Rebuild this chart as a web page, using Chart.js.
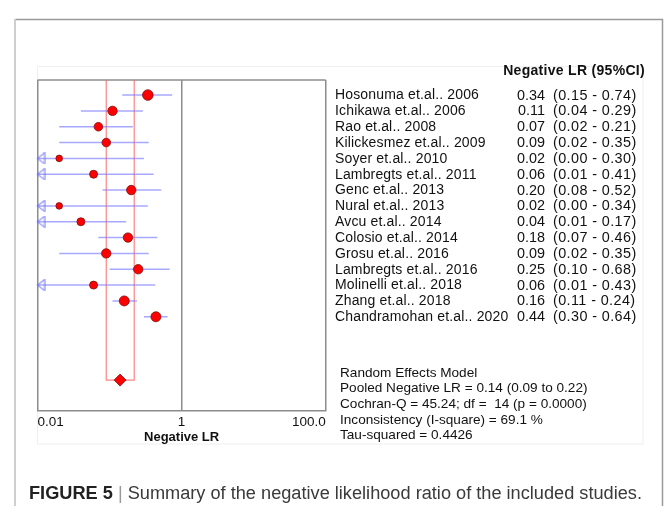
<!DOCTYPE html>
<html lang="en">
<head>
<meta charset="UTF-8">
<title>Negative LR forest plot</title>
<script src="https://cdn.jsdelivr.net/npm/chart.js"></script>
<style>
  html, body { margin: 0; padding: 0; background: #fff; }
  canvas { display: block; }
</style>
</head>
<body>
<canvas id="forest" width="667" height="506"></canvas>
<script>
// data
const studies = ['Hosonuma et.al.. 2006', 'Ichikawa et.al.. 2006', 'Rao et.al.. 2008', 'Kilickesmez et.al.. 2009',
  'Soyer et.al.. 2010', 'Lambregts et.al.. 2011', 'Genc et.al.. 2013', 'Nural et.al.. 2013', 'Avcu et.al.. 2014',
  'Colosio et.al.. 2014', 'Grosu et.al.. 2016', 'Lambregts et.al.. 2016', 'Molinelli et.al.. 2018',
  'Zhang et.al.. 2018', 'Chandramohan et.al.. 2020'];
const negLR = [0.34, 0.11, 0.07, 0.09, 0.02, 0.06, 0.20, 0.02, 0.04, 0.18, 0.09, 0.25, 0.06, 0.16, 0.44];
const ciLow = [0.15, 0.04, 0.02, 0.02, 0.00, 0.01, 0.08, 0.00, 0.01, 0.07, 0.02, 0.10, 0.01, 0.11, 0.30];
const ciHigh = [0.74, 0.29, 0.21, 0.35, 0.30, 0.41, 0.52, 0.34, 0.17, 0.46, 0.35, 0.68, 0.43, 0.24, 0.64];
const weights = [5.3, 4.7, 4.3, 4.3, 3.3, 4, 4.7, 3.3, 4, 4.7, 4.7, 4.7, 4, 5, 5]; // marker radius
const pooled = 0.14, pooledLow = 0.09, pooledHigh = 0.22;
const tickVals = [0.01, 1, 100];
const tickLabels = ['0.01', '1', '100.0'];
const statLines = ['Random Effects Model', 'Pooled Negative LR = 0.14 (0.09 to 0.22)',
  'Cochran-Q = 45.24; df =  14 (p = 0.0000)', 'Inconsistency (I-square) = 69.1 %', 'Tau-squared = 0.4426'];

const X_MIN = 0.01, X_MAX = 100;
const Y_MIN = 0.05, Y_MAX = 20.95, POOL_ROW = 19;
const FONT = '"Liberation Sans", Arial, sans-serif';

// open arrow head, tip at the centre of the image
const arrow = document.createElement('canvas');
arrow.width = 16; arrow.height = 12;
(function () {
  const c = arrow.getContext('2d');
  c.strokeStyle = 'rgba(110,110,255,0.75)';
  c.lineWidth = 1.2;
  c.beginPath();
  c.moveTo(15, 0.6); c.lineTo(8, 6); c.lineTo(15, 11.4); c.closePath();
  c.stroke();
})();

const ciSets = studies.map((s, i) => ({
  type: 'scatter', showLine: true, order: 5,
  data: [{ x: Math.max(ciLow[i], X_MIN), y: i + 1 }, { x: ciHigh[i], y: i + 1 }],
  borderColor: 'rgba(110,110,255,0.6)', borderWidth: 1.5, pointRadius: 0
}));

const decor = {
  id: 'decor',
  beforeDraw(chart) {
    const ctx = chart.ctx;
    ctx.save();
    ctx.fillStyle = '#fff';
    ctx.fillRect(0, 0, chart.width, chart.height);
    // figure frame
    ctx.strokeStyle = '#9a9a9a'; ctx.lineWidth = 1.5;
    ctx.beginPath(); ctx.moveTo(15, 19.5); ctx.lineTo(662.5, 19.5); ctx.lineTo(662.5, 506); ctx.stroke();
    ctx.strokeStyle = '#cfcfcf'; ctx.lineWidth = 2;
    ctx.beginPath(); ctx.moveTo(15, 19); ctx.lineTo(15, 506); ctx.stroke();
    // faint panel
    ctx.strokeStyle = '#efefef'; ctx.lineWidth = 1;
    ctx.strokeRect(37.5, 66.5, 605.5, 377.5);
    ctx.restore();
  },
  beforeDatasetsDraw(chart) {
    const { ctx, chartArea: a } = chart;
    ctx.save();
    ctx.strokeStyle = '#8c8c8c'; ctx.lineWidth = 1.5;
    ctx.beginPath(); ctx.moveTo(a.left, a.top); ctx.lineTo(a.right, a.top); ctx.stroke();
    ctx.restore();
  },
  afterDraw(chart) {
    const ctx = chart.ctx;
    const y = chart.scales.y;
    ctx.save();
    ctx.fillStyle = '#111';
    ctx.textBaseline = 'middle';
    ctx.font = 'bold 14px ' + FONT;
    ctx.letterSpacing = '0.3px';
    ctx.textAlign = 'right';
    ctx.fillText('Negative LR (95%CI)', 645, 71);
    studies.forEach((s, i) => {
      const py = y.getPixelForValue(i + 1) + 0.5;
      ctx.font = '14px ' + FONT;
      ctx.letterSpacing = '0.15px';
      ctx.textAlign = 'left';
      ctx.fillText(s, 335, py);
      ctx.font = '14.4px ' + FONT;
      ctx.letterSpacing = '0px';
      ctx.textAlign = 'right';
      ctx.fillText(negLR[i].toFixed(2), 545, py);
      ctx.letterSpacing = '0.4px';
      ctx.textAlign = 'left';
      ctx.fillText('(' + ciLow[i].toFixed(2) + ' - ' + ciHigh[i].toFixed(2) + ')', 553, py);
    });
    ctx.textAlign = 'left';
    ctx.letterSpacing = '0px';
    ctx.font = '13.6px ' + FONT;
    statLines.forEach((t, i) => ctx.fillText(t, 340, 373 + i * 15.6));

    // caption
    const bold = 'FIGURE 5', sep = ' | ', rest = 'Summary of the negative likelihood ratio of the included studies.';
    ctx.font = 'bold 18px ' + FONT;
    const wb = ctx.measureText(bold).width;
    ctx.font = '18px ' + FONT;
    const ws = ctx.measureText(sep).width, wr = ctx.measureText(rest).width;
    const k = 613 / (wb + ws + wr);
    ctx.translate(29, 494);
    ctx.scale(k, 1);
    ctx.font = 'bold 18px ' + FONT; ctx.fillStyle = '#222';
    ctx.fillText(bold, 0, 0);
    ctx.font = '18px ' + FONT; ctx.fillStyle = '#999';
    ctx.fillText(sep, wb, 0);
    ctx.fillStyle = '#3a3a3a';
    ctx.fillText(rest, wb + ws, 0);
    ctx.restore();
  }
};

new Chart(document.getElementById('forest'), {
  type: 'scatter',
  data: {
    datasets: [
      {
        label: 'studies', order: 1,
        data: negLR.map((v, i) => ({ x: v, y: i + 1 })),
        pointRadius: weights, pointHoverRadius: weights,
        backgroundColor: '#ff0000', borderColor: '#7a1010', borderWidth: 0.8
      },
      {
        label: 'pooled', order: 1,
        data: [{ x: pooled, y: POOL_ROW }],
        pointStyle: 'rectRot', pointRadius: 6, pointHoverRadius: 6,
        backgroundColor: '#ff0000', borderColor: '#7a1010', borderWidth: 0.8
      },
      {
        label: 'arrows', order: 2, clip: false,
        data: ciLow.map((v, i) => v <= X_MIN ? { x: X_MIN, y: i + 1 } : null).filter(p => p),
        pointStyle: arrow, pointRadius: 6
      },
      {
        label: 'pooled CI', order: 6, showLine: true,
        data: [{ x: pooledLow, y: Y_MIN }, { x: pooledLow, y: POOL_ROW }, { x: pooledHigh, y: POOL_ROW }, { x: pooledHigh, y: Y_MIN }],
        borderColor: 'rgba(255,90,90,0.75)', borderWidth: 1.2, pointRadius: 0
      },
      ...ciSets
    ]
  },
  options: {
    responsive: false,
    animation: false,
    events: [],
    layout: { padding: { left: 37.5, right: 341.3, top: 80, bottom: 55 } },
    plugins: { legend: { display: false }, tooltip: { enabled: false } },
    scales: {
      x: {
        type: 'logarithmic', min: X_MIN, max: X_MAX,
        afterBuildTicks: s => { s.ticks = tickVals.map(v => ({ value: v })); },
        afterFit: s => { s.height = 40; },
        grid: { color: '#8c8c8c', lineWidth: 1.5, drawTicks: false },
        border: { color: '#8c8c8c', width: 1.5 },
        ticks: {
          align: 'inner', padding: 3, color: '#111', maxRotation: 0, autoSkip: false,
          font: { family: FONT, size: 13.5 },
          callback: (v, i) => tickLabels[i]
        },
        title: {
          display: true, text: 'Negative LR', color: '#111',
          font: { family: FONT, size: 13, weight: 'bold' }, padding: { top: 0, bottom: 6 }
        }
      },
      y: { type: 'linear', display: false, reverse: true, min: Y_MIN, max: Y_MAX }
    }
  },
  plugins: [decor]
});
</script>
</body>
</html>
